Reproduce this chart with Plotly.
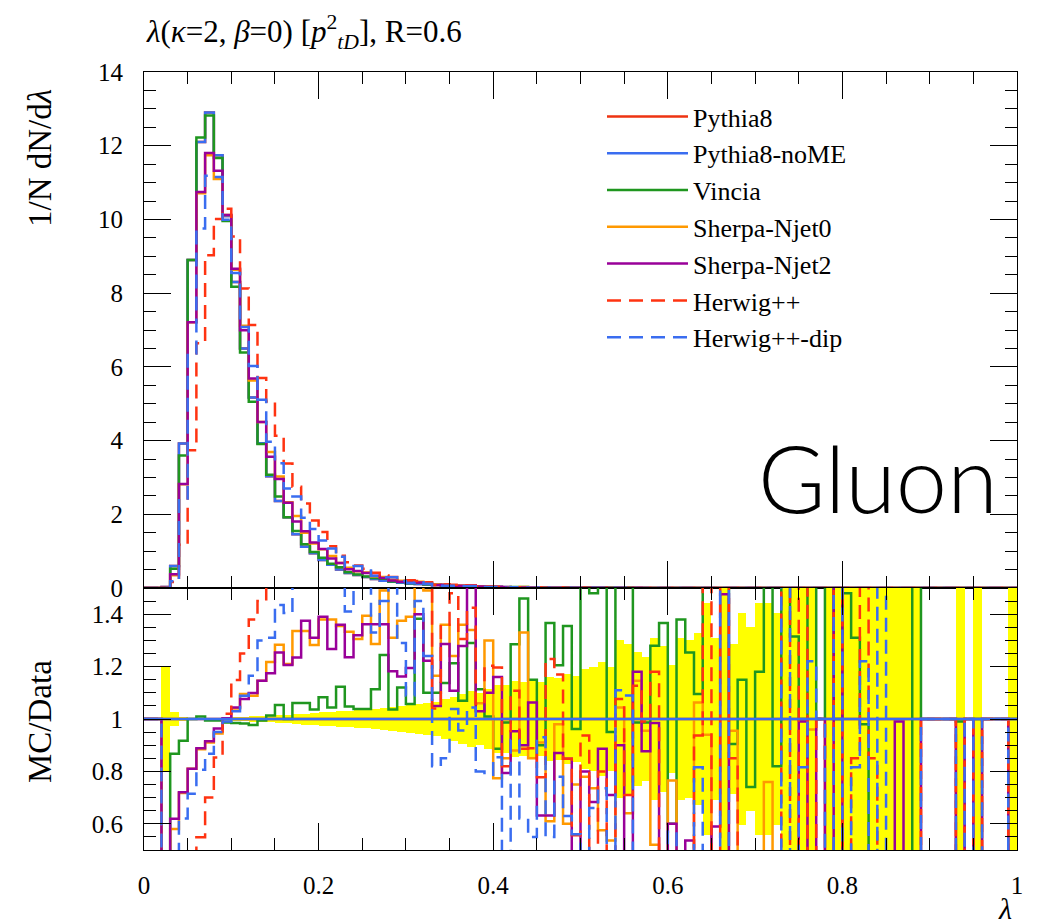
import plotly.graph_objects as go

# ---------------- data (bins of width 0.01 from 0 to 1) ----------------
bin_edges = [round(0.01 * i, 2) for i in range(101)]
bin_centers = [round(0.01 * i + 0.005, 3) for i in range(100)]

# reference ("Data") = Pythia8, 1/N dN/dlambda
pythia8 = [0, 0, 0.03, 0.6, 3.92, 8.9, 12.1, 12.9, 11.74, 10.09,
           8.3, 6.5, 5.17, 3.93, 3.03, 2.36, 1.92, 1.46, 1.12, 0.94,
           0.76, 0.63, 0.5, 0.41, 0.35, 0.3, 0.245, 0.2, 0.17, 0.145,
           0.125, 0.107, 0.092, 0.08, 0.068, 0.058, 0.05, 0.043, 0.037, 0.032,
           0.028, 0.024, 0.021, 0.018, 0.016, 0.014, 0.012, 0.0105, 0.009, 0.008,
           0.007, 0.006, 0.0052, 0.0045, 0.004, 0.0035, 0.003, 0.0026, 0.0023, 0.002,
           0.0018, 0.0016, 0.0014, 0.0012, 0.0011, 0.001, 0.0009, 0.0008, 0.0007, 0.0006,
           0.0006, 0.0005, 0.0005, 0.0004, 0.0004, 0.0003, 0.0003, 0, 0.0003, 0.0002,
           0.0002, 0.0002, 0.0002, 0.0002, 0.0001, 0.0001, 0.0001, 0.0001, 0.0001, 0,
           0, 0, 0, 0.0001, 0, 0.0001, 0, 0, 0, 0.0001]

# Pythia8-noME coincides with Pythia8 for this observable
pythia8_nome = [0, 0, 0.03, 0.6, 3.92, 8.9, 12.1, 12.9, 11.74, 10.09,
                8.3, 6.5, 5.17, 3.93, 3.03, 2.36, 1.92, 1.46, 1.12, 0.94,
                0.76, 0.63, 0.5, 0.41, 0.35, 0.3, 0.245, 0.2, 0.17, 0.145,
                0.125, 0.107, 0.092, 0.08, 0.068, 0.058, 0.05, 0.043, 0.037, 0.032,
                0.028, 0.024, 0.021, 0.018, 0.016, 0.014, 0.012, 0.0105, 0.009, 0.008,
                0.007, 0.006, 0.0052, 0.0045, 0.004, 0.0035, 0.003, 0.0026, 0.0023, 0.002,
                0.0018, 0.0016, 0.0014, 0.0012, 0.0011, 0.001, 0.0009, 0.0008, 0.0007, 0.0006,
                0.0006, 0.0005, 0.0005, 0.0004, 0.0004, 0.0003, 0.0003, 0, 0.0003, 0.0002,
                0.0002, 0.0002, 0.0002, 0.0002, 0.0001, 0.0001, 0.0001, 0.0001, 0.0001, 0,
                0, 0, 0, 0.0001, 0, 0.0001, 0, 0, 0, 0.0001]

# relative statistical uncertainty of the reference (yellow band half-width)
data_rel_err = [0, 0, 0.2, 0.027, 0.008, 0.005, 0.004, 0.004, 0.005, 0.006,
                0.008, 0.009, 0.01, 0.012, 0.013, 0.015, 0.017, 0.019, 0.021, 0.023,
                0.025, 0.027, 0.029, 0.031, 0.033, 0.036, 0.039, 0.042, 0.045, 0.048,
                0.052, 0.056, 0.06, 0.066, 0.075, 0.085, 0.095, 0.105, 0.1, 0.115,
                0.13, 0.13, 0.146, 0.14, 0.146, 0.14, 0.159, 0.155, 0.173, 0.165,
                0.19, 0.197, 0.218, 0.197, 0.3, 0.286, 0.254, 0.235, 0.311, 0.28,
                0.206, 0.311, 0.3, 0.33, 0.444, 0.311, 0.7, 0.286, 0.406, 0.353,
                0.444, 0.444, 0.406, 0.7, 0.7, 0.7, 0.7, 0, 1, 1,
                1, 1, 1, 1, 1, 1, 1, 1, 1, 0,
                0, 0, 0, 1, 0, 1, 0, 0, 0, 1]

# MC / Data ratios
vincia_ratio = [1, 1, 0.3, 0.867, 0.917, 1.0, 1.01, 0.994, 0.994, 0.987,
                0.985, 0.983, 0.977, 0.994, 1.013, 1.053, 1.0, 1.061, 1.061, 1.036,
                1.083, 1.044, 1.123, 1.048, 1.038, 1.038, 1.114, 1.244, 1.036, 1.12,
                1.057, 1.383, 1.1, 1.1, 1.137, 1.213, 1.07, 1.29, 1.114, 1.01,
                0.886, 0.987, 1.285, 1.46, 1.15, 0.9, 1.366, 1.205, 1.355, 0.962,
                1.7, 1.48, 1.7, 0.95, 1.7, 1.7, 0.987, 0.987, 1.28, 1.366,
                0.6, 1.38, 1.254, 1.095, 1.7, 1.7, 1.7, 0.905, 1.15, 0.74,
                1.18, 1.7, 0.82, 1.7, 1.315, 1.0, 1.7, 1, 1.7, 1.0,
                1.48, 1.31, 0.98, 0, 0, 0, 0, 0, 1.7, 1,
                1, 1, 1, 0.99, 1, 1, 1, 1, 1, 1]

njet0_ratio = [1, 1, 0.3, 0.58, 0.718, 0.81, 0.885, 0.91, 0.945, 1.003,
               1.04, 1.095, 1.089, 1.146, 1.218, 1.283, 1.21, 1.336, 1.336, 1.282,
               1.38, 1.38, 1.355, 1.333, 1.305, 1.394, 1.286, 1.49, 1.31, 1.375,
               1.39, 1.6, 1.49, 1.165, 1.36, 1.24, 1.36, 1.34, 1.06, 1.3,
               0.774, 0.85, 0.88, 1.33, 0.85, 0.91, 0.61, 0.98, 0.6, 0.75,
               0.78, 0.736, 0.575, 0.536, 1.044, 0.64, 1.146, 0.955, 0.52, 0.3,
               0.765, 0.3, 0.3, 1.063, 0.94, 0.3, 0.3, 0.955, 0.3, 0.3,
               0.3, 0.76, 0.3, 0.3, 0.3, 0.3, 0.96, 1, 0, 0,
               0, 0, 0, 0, 0, 0, 0, 0, 0, 1,
               1, 1, 1, 0, 1, 0, 1, 1, 1, 0]

njet2_ratio = [1, 1, 0.3, 0.619, 0.72, 0.81, 0.888, 0.915, 0.964, 1.003,
               1.044, 1.076, 1.099, 1.146, 1.175, 1.254, 1.206, 1.235, 1.375, 1.31,
               1.39, 1.267, 1.36, 1.236, 1.32, 1.362, 1.362, 1.362, 1.182, 1.162,
               1.195, 1.4, 1.222, 1.05, 1.286, 1.108, 1.279, 1.6, 1.03, 1.1,
               1.16, 0.794, 0.953, 0.9, 1.063, 0.632, 0.632, 0.87, 0.848, 0.45,
               0.8, 0.683, 0.886, 0.71, 0.9, 0.45, 1.18, 0.877, 0.985, 0.3,
               0.6, 0.3, 0.536, 0.3, 0.3, 0.59, 1.476, 0, 0, 0,
               0, 0, 0, 0, 0, 0.99, 0, 1, 0, 1.7,
               0, 0, 0, 0, 0, 0, 0.99, 0, 0, 1,
               1, 1, 1, 0, 1, 0, 1, 1, 1, 0]

herwig_ratio = [1, 1, 0.2, 0.27, 0.3, 0.42, 0.549, 0.7, 0.853, 1.02,
                1.149, 1.25, 1.38, 1.45, 1.67, 1.75, 1.76, 1.88, 2.05, 1.95,
                2.0, 1.8, 1.75, 1.7, 1.75, 1.75, 1.7, 1.7, 1.75, 1.7,
                1.7, 1.75, 1.7, 1.04, 1.36, 1.48, 1.305, 1.425, 1.057, 1.203,
                1.197, 0.82, 1.108, 0.886, 0.888, 0.778, 1.229, 1.17, 0.848, 0.556,
                0.937, 0.3, 0.8, 0.3, 1.076, 0.71, 1.127, 0.99, 1.18, 0.3,
                0.3, 0.3, 0.3, 0.937, 1.7, 0.3, 1.7, 0.85, 0, 0,
                0.3, 0, 0, 1.7, 0, 1.7, 0, 1, 0.85, 1.7,
                0, 0.85, 1.7, 0.85, 0, 0, 0, 0, 0, 1,
                1, 1, 1, 0, 1, 0, 1, 1, 1, 0]

herwig_dip_ratio = [1, 1, 0.3, 0.3, 0.62, 0.715, 0.806, 0.867, 0.95, 0.99,
                    1.03, 1.089, 1.165, 1.3, 1.31, 1.435, 1.405, 1.7, 1.7, 1.7,
                    1.7, 1.7, 1.7, 1.41, 1.7, 1.7, 1.33, 1.45, 1.7, 1.29,
                    1.09, 1.45, 1.24, 0.82, 0.85, 1.038, 0.956, 1.044, 0.8, 0.787,
                    0.854, 0.3, 0.92, 0.62, 0.55, 0.93, 0.55, 0.78, 0.63, 0.56,
                    0.3, 0.66, 0.736, 0.3, 1.11, 1.09, 0.3, 0.3, 0.3, 0.3,
                    0.57, 0.3, 0.3, 0.816, 0.3, 0.3, 1.7, 0, 0, 0,
                    0, 0, 0, 1.7, 0, 0.816, 1.22, 1, 0, 1.7,
                    0, 0.816, 1.22, 0, 1.7, 0, 0, 0, 0, 1,
                    1, 1, 1, 0, 1, 0, 1, 1, 1, 0]

series_names = ["Pythia8", "Pythia8-noME", "Vincia", "Sherpa-Njet0",
                "Sherpa-Njet2", "Herwig++", "Herwig++-dip"]
series_colors = ["#ee3311", "#3a6df0", "#1f961f", "#ff9900",
                 "#990099", "#ff3311", "#3a6df0"]
series_dash = ["solid", "solid", "solid", "solid", "solid", "14px,8px", "14px,8px"]


def ratio_of(vals, ref):
    return [v / r if r > 0 else 1.0 for v, r in zip(vals, ref)]


def from_ratio(ratio, ref):
    return [r * d for r, d in zip(ratio, ref)]


top_values = [pythia8, pythia8_nome,
              from_ratio(vincia_ratio, pythia8), from_ratio(njet0_ratio, pythia8),
              from_ratio(njet2_ratio, pythia8), from_ratio(herwig_ratio, pythia8),
              from_ratio(herwig_dip_ratio, pythia8)]
ratio_values = [ratio_of(pythia8, pythia8), ratio_of(pythia8_nome, pythia8),
                vincia_ratio, njet0_ratio, njet2_ratio, herwig_ratio, herwig_dip_ratio]

FONT = "Liberation Serif"
fig = go.Figure()

# yellow uncertainty band
fig.add_trace(go.Bar(
    x=bin_centers, y=[2 * e for e in data_rel_err], base=[1 - e for e in data_rel_err],
    width=0.01, marker=dict(color="#ffff00", line=dict(width=0)),
    xaxis="x2", yaxis="y2", showlegend=False, hoverinfo="skip"))

# top panel histograms
for name, col, dash, vals in zip(series_names, series_colors, series_dash, top_values):
    fig.add_trace(go.Scatter(
        x=bin_edges, y=list(vals) + [vals[-1]], mode="lines", line_shape="hv",
        line=dict(color=col, width=2.5, dash=dash), name=name,
        xaxis="x", yaxis="y"))

# ratio panel (flat Pythia8-noME drawn last, on top)
order = [0, 2, 3, 4, 5, 6, 1]
for i in order:
    vals = ratio_values[i]
    fig.add_trace(go.Scatter(
        x=bin_edges, y=list(vals) + [vals[-1]], mode="lines", line_shape="hv",
        line=dict(color=series_colors[i], width=2.5, dash=series_dash[i]),
        name=series_names[i], showlegend=False,
        xaxis="x2", yaxis="y2"))

split = 262 / 778
axis_common = dict(showline=True, linecolor="black", linewidth=1.2, mirror="ticks",
                   ticks="inside", tickcolor="black", tickwidth=1.3, showgrid=False,
                   zeroline=False, tickfont=dict(family=FONT, size=25, color="black"))
minor_common = dict(ticklen=12, ticks="inside", tickcolor="black", tickwidth=1.3)

fig.update_layout(
    width=1044, height=924, paper_bgcolor="white", plot_bgcolor="white",
    margin=dict(l=144, r=27, t=72, b=74, pad=0),
    bargap=0,
    xaxis=dict(domain=[0, 1], range=[0, 1], anchor="y", showticklabels=False,
               dtick=0.2, tick0=0, ticklen=27, minor=dict(dtick=0.05, **minor_common),
               **axis_common),
    yaxis=dict(domain=[split, 1], range=[0, 14], anchor="x", dtick=2, tick0=0, ticklen=27,
               ticklabelstandoff=15, minor=dict(dtick=0.5, **minor_common),
               **axis_common),
    xaxis2=dict(domain=[0, 1], range=[0, 1], anchor="y2", dtick=0.2, tick0=0, ticklen=27,
                ticklabelstandoff=13, matches="x", minor=dict(dtick=0.05, **minor_common),
                **axis_common),
    yaxis2=dict(domain=[0, split], range=[0.5, 1.5], anchor="x2", dtick=0.2, tick0=0, ticklen=27,
                ticklabelstandoff=15, minor=dict(dtick=0.05, **minor_common),
                **axis_common),
    legend=dict(x=(602 - 144) / 873, y=(850 - 93) / 778, xanchor="left", yanchor="top",
                bgcolor="rgba(0,0,0,0)", borderwidth=0, itemwidth=81,
                font=dict(family=FONT, size=26, color="black")),
    showlegend=True,
)

annots = [
    dict(text="<i>λ</i>(<i>κ</i>=2, <i>β</i>=0) [<i>p</i><sup>2</sup><sub><i>tD</i></sub>], R=0.6",
         x=0, y=(850 - 32) / 778, xanchor="left", yanchor="middle",
         font=dict(family=FONT, size=31, color="black")),
    dict(text="1/N dN/d<i>λ</i>", x=(40 - 144) / 873, y=(850 - 158) / 778, textangle=-90,
         xanchor="center", yanchor="middle", font=dict(family=FONT, size=33, color="black")),
    dict(text="MC/Data", x=(40 - 144) / 873, y=(850 - 722) / 778, textangle=-90,
         xanchor="center", yanchor="middle", font=dict(family=FONT, size=33, color="black")),
    dict(text="<i>λ</i>", x=(1005 - 144) / 873, y=(850 - 908) / 778,
         xanchor="center", yanchor="middle", font=dict(family=FONT, size=30, color="black")),
    dict(text="Gluon", x=(1000 - 144) / 873, y=(850 - 478) / 778, xanchor="right",
         yanchor="middle", font=dict(family="Lato, Liberation Sans", size=92, color="black", weight=300)),
]
for a in annots:
    a.update(xref="paper", yref="paper", showarrow=False)
fig.update_layout(annotations=annots)

fig.write_html("out.html")
